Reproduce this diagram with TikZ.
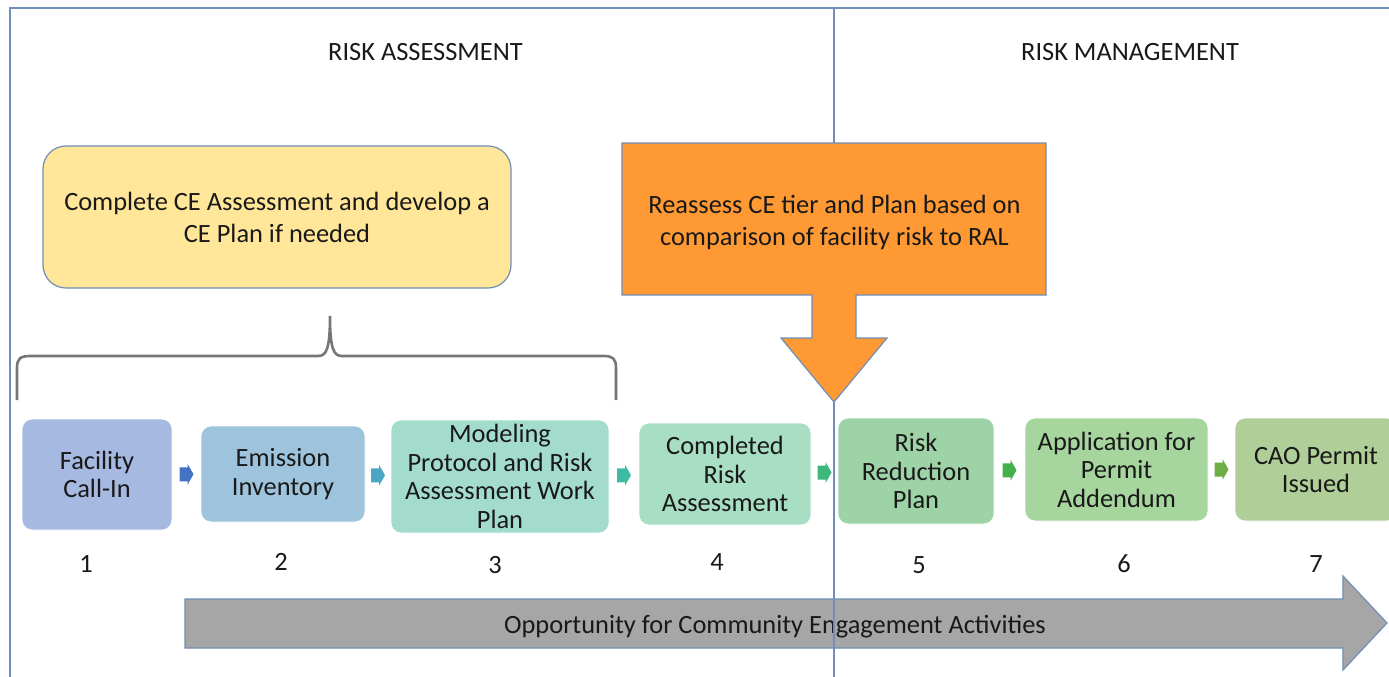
\documentclass[tikz,border=0pt]{standalone}
\usepackage{fontspec}
\setmainfont{Carlito}
\usetikzlibrary{calc}

\definecolor{framecol}{RGB}{112,142,182}
\definecolor{bracecol}{RGB}{118,118,118}
\definecolor{cefill}{RGB}{255,230,153}
\definecolor{callfill}{RGB}{255,153,51}
\definecolor{bandfill}{RGB}{166,166,166}
\definecolor{sA}{RGB}{166,185,225}
\definecolor{sB}{RGB}{157,196,220}
\definecolor{sC}{RGB}{163,220,205}
\definecolor{sD}{RGB}{168,222,196}
\definecolor{sE}{RGB}{157,211,166}
\definecolor{sF}{RGB}{166,214,158}
\definecolor{sG}{RGB}{175,206,152}
\definecolor{cA}{RGB}{68,114,196}
\definecolor{cB}{RGB}{75,166,196}
\definecolor{cC}{RGB}{61,187,160}
\definecolor{cD}{RGB}{62,184,122}
\definecolor{cE}{RGB}{67,176,74}
\definecolor{cF}{RGB}{112,173,71}

\newcommand{\stagefont}{\fontsize{26.4}{28.5}\selectfont}
\newcommand{\notefont}{\fontsize{26.4}{32}\selectfont}

% small chevron between two consecutive stages
\newcommand{\flowchev}[2]{%
  \fill[#2] ($(#1)+(-7,7)$) -- ++(8,0) -- ++(0,3.5) -- ++(6,-10.5)
    -- ++(-6,-10.5) -- ++(0,3.5) -- ++(-8,0) -- cycle;}

\begin{document}
\begin{tikzpicture}[x=1pt,y=-1pt,
  framerule/.style={draw=framecol,line width=1.8pt},
  stagebox/.style={rounded corners=10pt,draw=white,line width=0.8pt,
    align=center,inner sep=0pt,font=\stagefont,text=black!90},
  numlabel/.style={font=\fontsize{26.4}{30}\selectfont,text=black!90},
  header/.style={font=\fontsize{26.4}{30}\selectfont,text=black!90},
  shapeedge/.style={draw=framecol,line width=1.2pt}]

\useasboundingbox (0,0) rectangle (1389,677);
\clip (0,0) rectangle (1389,677);

% outer frame
\draw[framerule] (10,677) -- (10,8) -- (1389,8);

% community engagement band
\draw[shapeedge,fill=bandfill] (185,599) -- (1343,599) -- (1343,576) -- (1387,623)
  -- (1343,670) -- (1343,648) -- (185,648) -- cycle;
\node[font=\fontsize{26.4}{30}\selectfont,text=black!90] (band) at (775,627)
  {Opportunity for Community Engagement Activities};

% divider between the two phases
\draw[framerule] (834,8) -- (834,677);

% section headers
\node[header] (hassess) at (425.5,52) {RISK ASSESSMENT};
\node[header] (hmanage) at (1130,52) {RISK MANAGEMENT};

% CE assessment note
\node[draw=framecol,line width=1.2pt,fill=cefill,rounded corners=23pt,
  minimum width=468pt,minimum height=142pt,align=center,inner sep=0pt,
  font=\notefont,text=black!90] (ceplan) at (277,217)
  {Complete CE Assessment and develop a\\CE Plan if needed};

% brace under the note
\draw[bracecol,line width=2.6pt] (17,400) -- (17,368)
  .. controls (17,359) and (20,356) .. (30,356) -- (318,356)
  .. controls (326,356) and (330,350) .. (330,316)
  .. controls (330,350) and (334,356) .. (342,356) -- (604,356)
  .. controls (613,356) and (616,359) .. (616,368) -- (616,400);

% reassessment callout
\draw[shapeedge,fill=callfill] (622,143) -- (1046,143) -- (1046,295) -- (856,295)
  -- (856,338) -- (887,338) -- (834,402) -- (781,338) -- (812,338)
  -- (812,295) -- (622,295) -- cycle;
\node[align=center,font=\notefont,text=black!90] (reassess) at (834.5,222)
  {Reassess CE tier and Plan based on\\comparison of facility risk to RAL};

% process stages
\node[stagebox,fill=sA,minimum width=150pt,minimum height=111pt] (b1) at (97,474.5)
  {Facility\\Call-In};
\node[stagebox,fill=sB,minimum width=164pt,minimum height=96pt] (b2) at (283,474)
  {Emission\\Inventory};
\node[stagebox,fill=sC,minimum width=218pt,minimum height=113pt] (b3) at (500,476.5)
  {Modeling\\Protocol and Risk\\Assessment Work\\Plan};
\node[stagebox,fill=sD,minimum width=172pt,minimum height=102pt] (b4) at (725,474)
  {Completed\\Risk\\Assessment};
\node[stagebox,fill=sE,minimum width=156pt,minimum height=106pt] (b5) at (916,471)
  {Risk\\Reduction\\Plan};
\node[stagebox,fill=sF,minimum width=183pt,minimum height=103pt] (b6) at (1116.5,469.5)
  {Application for\\Permit\\Addendum};
\node[stagebox,fill=sG,minimum width=162pt,minimum height=103pt] (b7) at (1316,469.5)
  {CAO Permit\\Issued};

% chevrons between stages
\coordinate (m12) at ($(b1.east)!0.5!(b2.west)$);
\coordinate (m23) at ($(b2.east)!0.5!(b3.west)$);
\coordinate (m34) at ($(b3.east)!0.5!(b4.west)$);
\coordinate (m45) at ($(b4.east)!0.5!(b5.west)$);
\coordinate (m56) at ($(b5.east)!0.5!(b6.west)$);
\coordinate (m67) at ($(b6.east)!0.5!(b7.west)$);
\flowchev{m12}{cA}
\flowchev{m23}{cB}
\flowchev{m34}{cC}
\flowchev{m45}{cD}
\flowchev{m56}{cE}
\flowchev{m67}{cF}

% stage numbers
\node[numlabel] (n1) at (86,564) {1};
\node[numlabel] (n2) at (281,562) {2};
\node[numlabel] (n3) at (495,565) {3};
\node[numlabel] (n4) at (717,562) {4};
\node[numlabel] (n5) at (919,565) {5};
\node[numlabel] (n6) at (1124,564) {6};
\node[numlabel] (n7) at (1316,564) {7};

\end{tikzpicture}
\end{document}
